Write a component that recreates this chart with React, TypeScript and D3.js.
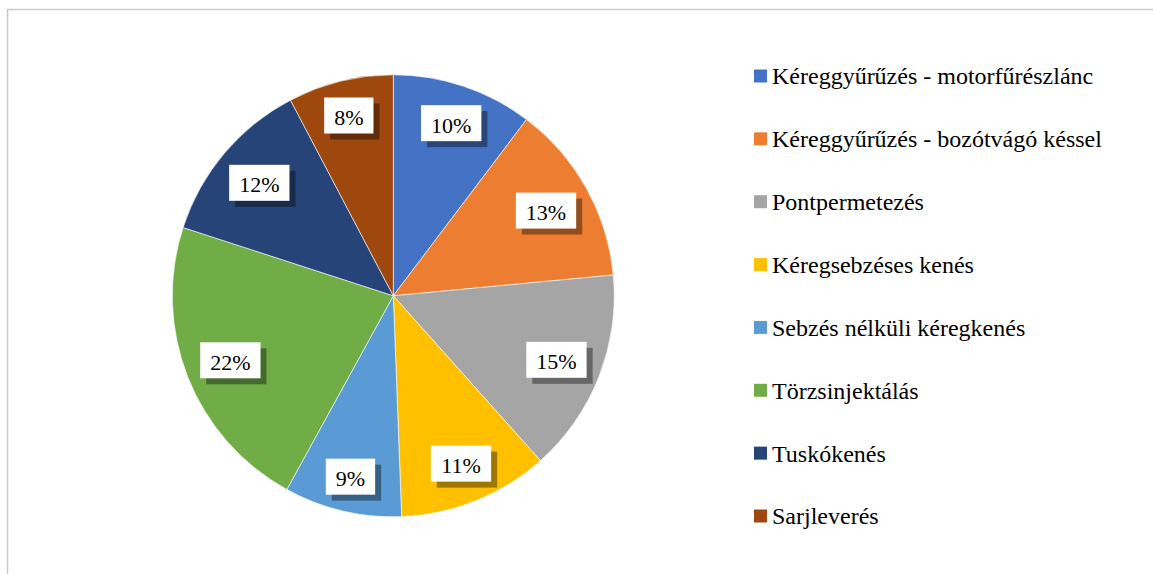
import * as d3 from "d3";

// chart data (shares in percent)
const categories = [
  "Kéreggyűrűzés - motorfűrészlánc",
  "Kéreggyűrűzés - bozótvágó késsel",
  "Pontpermetezés",
  "Kéregsebzéses kenés",
  "Sebzés nélküli kéregkenés",
  "Törzsinjektálás",
  "Tuskókenés",
  "Sarjleverés",
];
const shares = [10.3, 13.2, 14.9, 11.0, 8.6, 22.0, 12.3, 7.7];
const colors = ["#4472C4", "#ED7D31", "#A5A5A5", "#FFC000", "#5B9BD5", "#70AD47", "#264478", "#9E480E"];

const W = 1153;
const H = 574;
const cx = 393.3;
const cy = 295.8;
const R = 221;
const labelReach = 210; // outer corner of each label box sits this far from the centre
const font = "Liberation Serif";
const labelSize = 22;

// rough Times widths for the label boxes
const textWidth = (s: string, fs: number) =>
  s.split("").reduce((w, ch) => w + (ch === "%" ? 0.833 : 0.5), 0) * fs;

const App = () => {
  const pie = d3.pie<number>().sort(null).value((d) => d)(shares);
  const arc = d3.arc<d3.PieArcDatum<number>>().innerRadius(0).outerRadius(R);
  const pct = d3.format(".0%");
  const total = d3.sum(shares);

  const legendY = d3.scalePoint<number>().domain(d3.range(categories.length)).range([76, 516]);

  return (
    <svg width={W} height={H} style={{ position: "absolute", left: 0, top: 0, display: "block", background: "#fff" }}>
      <rect x={7.5} y={9.5} width={W + 10} height={H + 10} fill="#fff" stroke="#c9c9c9" strokeWidth={1.5} />

      <g transform={`translate(${cx},${cy})`}>
        {pie.map((p, i) => (
          <path key={i} d={arc(p) || ""} fill={colors[i]} stroke="#fff" strokeWidth={0.6} />
        ))}
        {pie.map((p, i) => {
          const label = pct(p.data / total);
          const bw = textWidth(label, labelSize) + 20;
          const bh = 36;
          // push the box out along the mid angle until its far corner hits labelReach
          const mid = (p.startAngle + p.endAngle) / 2;
          const ux = Math.sin(mid);
          const uy = -Math.cos(mid);
          const hx = Math.sign(ux) * bw / 2;
          const hy = Math.sign(uy) * bh / 2;
          const dot = ux * hx + uy * hy;
          const t = -dot + Math.sqrt(dot * dot - (hx * hx + hy * hy) + labelReach * labelReach);
          const x = ux * t;
          const y = uy * t;
          return (
            <g key={"l" + i}>
              <rect x={x - bw / 2 + 6} y={y - bh / 2 + 6} width={bw} height={bh} fill="#000" opacity={0.38} />
              <rect x={x - bw / 2} y={y - bh / 2} width={bw} height={bh} fill="#fff" />
              <text x={x} y={y + 9.5} textAnchor="middle" fontFamily={font} fontSize={labelSize} fill="#000">
                {label}
              </text>
            </g>
          );
        })}
      </g>

      <g>
        {categories.map((c, i) => (
          <g key={c} transform={`translate(754,${legendY(i)})`}>
            <rect x={0} y={-6.5} width={13} height={13} fill={colors[i]} />
            <text x={18} y={8.4} fontFamily={font} fontSize={24} fill="#000">
              {c}
            </text>
          </g>
        ))}
      </g>
    </svg>
  );
};

export default App;
